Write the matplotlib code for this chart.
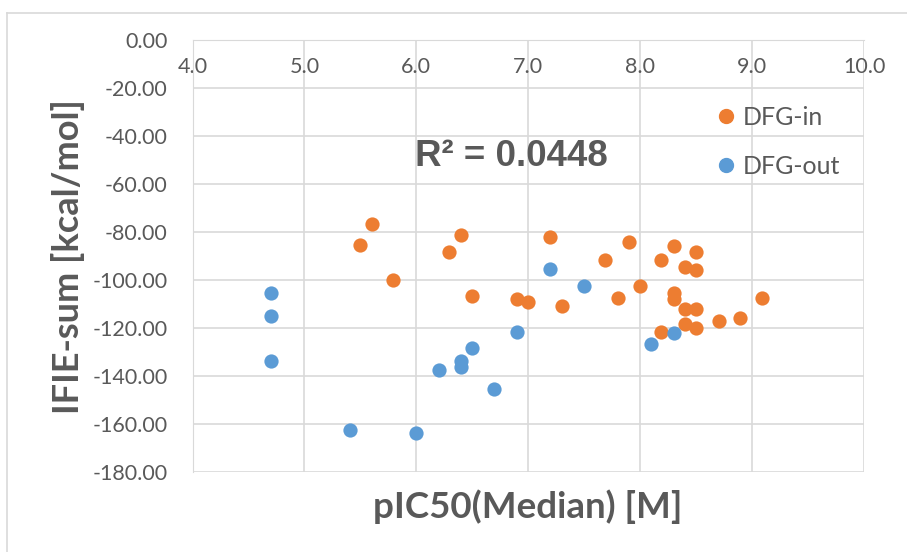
import matplotlib
matplotlib.use("Agg")
import matplotlib.pyplot as plt
from matplotlib.lines import Line2D

# pIC50 vs IFIE-sum
dfg_in_x = [5.60, 5.50, 5.79, 6.29, 6.40, 6.50, 6.90, 7.00, 7.19, 7.30,
            7.69, 7.90, 7.80, 8.00, 8.19, 8.30, 8.50, 8.40, 8.50, 8.30,
            8.30, 8.40, 8.50, 8.40, 8.50, 8.70, 8.89, 9.09, 8.19]
dfg_in_y = [-76.7, -85.4, -100.0, -88.5, -81.3, -106.5, -108.0, -109.2, -82.2, -111.0,
            -91.8, -84.3, -107.6, -102.5, -91.7, -85.8, -88.5, -94.4, -96.0, -105.3,
            -108.0, -112.0, -112.0, -118.3, -119.9, -117.2, -115.7, -107.5, -121.7]

dfg_out_x = [4.70, 4.70, 4.70, 5.41, 6.00, 6.20, 6.40, 6.40, 6.50, 6.69,
             6.90, 7.19, 7.50, 8.10, 8.30]
dfg_out_y = [-105.6, -115.0, -133.9, -162.5, -163.6, -137.5, -133.6, -136.4, -128.3, -145.5,
             -121.8, -95.4, -102.5, -126.7, -122.2]

x_ticks = [4.0, 5.0, 6.0, 7.0, 8.0, 9.0, 10.0]
y_ticks = [0, -20, -40, -60, -80, -100, -120, -140, -160, -180]
r2_label = "R² = 0.0448"

ORANGE = "#ED7D31"
BLUE = "#5B9BD5"
GRID = "#d9d9d9"
TEXT = "#595959"

plt.rcParams['font.family'] = ['Lato', 'DejaVu Sans']

fig = plt.figure(figsize=(9.07, 5.52), dpi=100)
ax = fig.add_axes([192.5 / 907, 1 - 472 / 552, (864 - 192.5) / 907, (472 - 40) / 552])

ax.scatter(dfg_in_x, dfg_in_y, s=105, color=ORANGE, linewidths=0, zorder=3)
ax.scatter(dfg_out_x, dfg_out_y, s=105, color=BLUE, linewidths=0, zorder=3)

ax.set_xlim(4, 10)
ax.set_ylim(-180, 0)
ax.set_xticks(x_ticks)
ax.set_xticklabels([f"{t:.1f}" for t in x_ticks])
ax.set_yticks(y_ticks)
ax.set_yticklabels([f"{t:.2f}" if t == 0 else f"-{abs(t):.2f}" for t in y_ticks])
ax.grid(True, color=GRID, linewidth=1.2, zorder=0)
ax.set_axisbelow(True)

for s in ['top', 'right']:
    ax.spines[s].set_visible(False)
ax.spines['left'].set_color(GRID)
ax.spines['bottom'].set_color(GRID)
ax.spines['bottom'].set_position(('data', 0))
ax.tick_params(length=0, colors=TEXT, labelsize=15.5)
ax.tick_params(axis='x', pad=12)
ax.tick_params(axis='y', pad=18)

fig.text(68 / 907, 1 - 257 / 552, "IFIE-sum [kcal/mol]", rotation=90,
         ha='center', va='center', fontsize=26, fontweight='bold', color=TEXT)
fig.text(528 / 907, 1 - 507 / 552, "pIC50(Median) [M]",
         ha='center', va='center', fontsize=26.5, fontweight='bold', color=TEXT)

ax.text(5.99, -48.5, r2_label, ha='left', va='center', fontsize=26.5,
        fontweight='bold', color=TEXT, family=['Liberation Sans', 'DejaVu Sans'])

handles = [Line2D([], [], marker='o', linestyle='', color=ORANGE, markersize=10, label='DFG-in'),
           Line2D([], [], marker='o', linestyle='', color=BLUE, markersize=10, label='DFG-out')]
leg = ax.legend(handles=handles, loc='upper left', bbox_to_anchor=(0.779, 0.848),
                frameon=False, fontsize=18, handlelength=0.8, handletextpad=0.3,
                borderpad=0, borderaxespad=0, labelspacing=1.05, labelcolor=TEXT)

# outer chart border (only top and left visible in the reference)
fig.add_artist(Line2D([7 / 907, 1], [1 - 13 / 552, 1 - 13 / 552], color=GRID, linewidth=1.2))
fig.add_artist(Line2D([7 / 907, 7 / 907], [0, 1 - 13 / 552], color=GRID, linewidth=1.2))

fig.savefig("out.png", dpi=100)
